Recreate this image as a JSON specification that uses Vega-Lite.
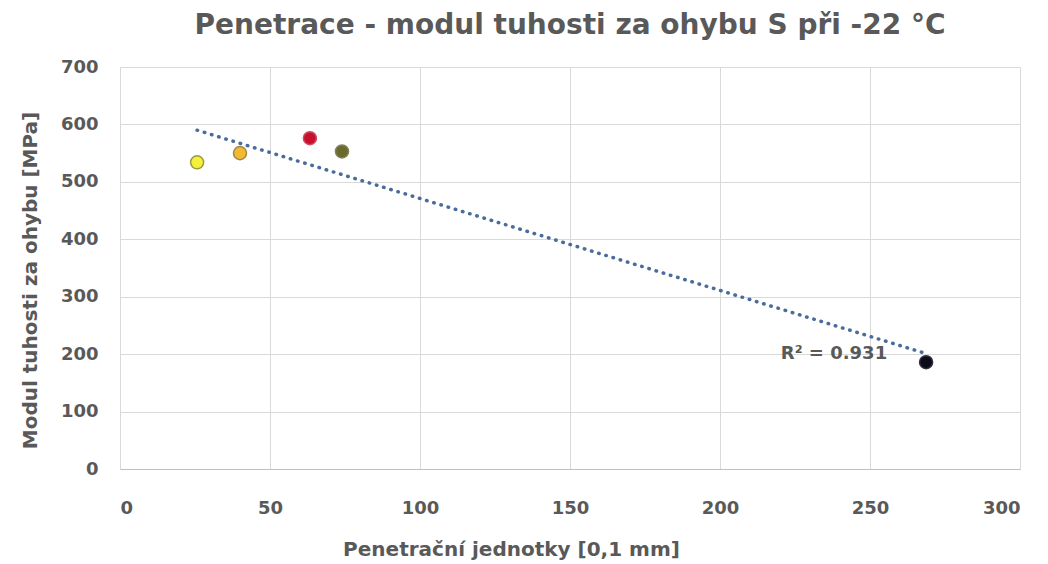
{
  "$schema": "https://vega.github.io/schema/vega-lite/v6.json",
  "autosize": {"type": "none"},
  "padding": {"left": 120, "top": 67, "right": 28, "bottom": 95},
  "width": 900,
  "height": 402,
  "background": "white",
  "title": {
    "text": "Penetrace - modul tuhosti za ohybu S při -22 °C",
    "font": "DejaVu Sans",
    "fontSize": 28,
    "fontWeight": "bold",
    "color": "#595959",
    "anchor": "middle",
    "offset": 18
  },
  "config": {
    "view": {"stroke": null},
    "axis": {
      "labelFont": "DejaVu Sans",
      "labelFontSize": 18,
      "labelFontWeight": "bold",
      "labelColor": "#595959",
      "titleFont": "DejaVu Sans",
      "titleFontSize": 20,
      "titleFontWeight": "bold",
      "titleColor": "#595959",
      "gridColor": "#d9d9d9",
      "gridWidth": 1,
      "ticks": false,
      "domain": false
    }
  },
  "datasets": {
    "points": [
      {"x": 25.7, "y": 534, "c": "a"},
      {"x": 40, "y": 550, "c": "b"},
      {"x": 63.3, "y": 576, "c": "c"},
      {"x": 74, "y": 553, "c": "d"},
      {"x": 268.7, "y": 186, "c": "e"}
    ],
    "trend": [
      {"x": 25.7, "y": 590},
      {"x": 268.7, "y": 201}
    ],
    "label": [
      {"x": 238, "y": 200, "t": "R² = 0.931"}
    ]
  },
  "layer": [
    {
      "data": {"name": "trend"},
      "mark": {"type": "line", "color": "#4a6c9b", "strokeWidth": 3.5, "strokeDash": [0.5, 7], "strokeCap": "round"},
      "encoding": {
        "x": {
          "field": "x", "type": "quantitative",
          "scale": {"domain": [0, 300], "nice": false},
          "axis": {"values": [0, 50, 100, 150, 200, 250, 300], "title": "Penetrační jednotky [0,1 mm]", "labelPadding": 30, "titlePadding": 22, "titleX": 391, "domain": true, "domainColor": "#bfbfbf"}
        },
        "y": {
          "field": "y", "type": "quantitative",
          "scale": {"domain": [0, 700], "nice": false},
          "axis": {"values": [0, 100, 200, 300, 400, 500, 600, 700], "title": "Modul tuhosti za ohybu [MPa]", "labelPadding": 22, "titlePadding": 20, "titleY": 213}
        }
      }
    },
    {
      "data": {"name": "points"},
      "mark": {"type": "point", "filled": true, "size": 170, "strokeWidth": 1.5, "opacity": 1},
      "encoding": {
        "x": {"field": "x", "type": "quantitative"},
        "y": {"field": "y", "type": "quantitative"},
        "fill": {
          "field": "c", "type": "nominal", "legend": null,
          "scale": {"domain": ["a", "b", "c", "d", "e"], "range": ["#f4f03c", "#f2b933", "#c8102e", "#6b6a2c", "#0b0b1a"]}
        },
        "stroke": {
          "field": "c", "type": "nominal", "legend": null,
          "scale": {"domain": ["a", "b", "c", "d", "e"], "range": ["#9c9a3a", "#a08a44", "#d04a5a", "#808060", "#303040"]}
        }
      }
    },
    {
      "data": {"name": "label"},
      "mark": {"type": "text", "font": "DejaVu Sans", "fontSize": 18, "fontWeight": "bold", "color": "#595959", "align": "center", "baseline": "middle"},
      "encoding": {
        "x": {"field": "x", "type": "quantitative"},
        "y": {"field": "y", "type": "quantitative"},
        "text": {"field": "t"}
      }
    }
  ]
}
